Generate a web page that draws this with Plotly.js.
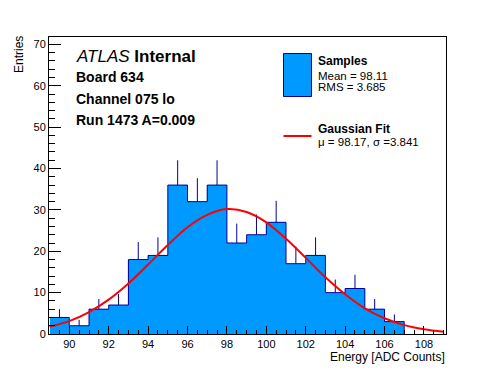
<!DOCTYPE html>
<html>
<head>
<meta charset="utf-8">
<script src="https://cdn.plot.ly/plotly-3.0.1.min.js"></script>
<style>html,body{margin:0;padding:0;background:#fff;}#chart{width:496px;height:372px;}</style>
</head>
<body>
<div id="chart"></div>
<script>
// ---- data ----
const binLowEdges = [89, 90, 91, 92, 93, 94, 95, 96, 97, 98, 99, 100, 101, 102, 103, 104, 105, 106];
const binWidth = 1;
const counts = [4, 2, 6, 7, 18, 19, 36, 32, 36, 22, 24, 27, 17, 19, 10, 11, 6, 3];
const fitX = [89, 90, 91, 92, 93, 94, 95, 96, 97, 98, 99, 100, 101, 102, 103, 104, 105, 106, 107, 108, 109];
const fitY = [1.75, 3.1, 5.3, 8.3, 12.2, 16.8, 21.5, 25.8, 28.8, 30.2, 29.5, 27.0, 23.0, 18.4, 13.7, 9.6, 6.2, 3.8, 2.15, 1.15, 0.57];
const xTitle = "Energy [ADC Counts]";
const yTitle = "Entries";
const statLines = ["Mean = 98.11", "RMS = 3.685"];
const fitLine = "\u03bc = 98.17, \u03c3 =3.841";
const infoLines = ["Board 634", "Channel 075 lo", "Run 1473 A=0.009"];

// ---- derived ----
const centers = binLowEdges.map(e => e + binWidth / 2);
const errs = counts.map(c => Math.sqrt(c));
const stepX = binLowEdges.concat([binLowEdges[binLowEdges.length - 1] + binWidth]);
const stepY = counts.concat([0]);

const FONT = '"Liberation Sans", Arial, Helvetica, sans-serif';
const L = 49, R = 446, T = 37, B = 334;
const W = 496, H = 372;
const px = x => (x - L) / (R - L);
const py = y => (B - y) / (B - T);

const fillBlue = '#0099ff';
const darkBlue = '#000099';

const traces = [
  { type: 'bar', x: centers, y: counts, width: binWidth, marker: { color: fillBlue, line: { width: 0 } }, hoverinfo: 'skip', showlegend: false },
  { type: 'scatter', mode: 'markers', x: centers, y: counts, marker: { size: 0.1, opacity: 0 },
    error_y: { type: 'data', symmetric: false, array: errs, arrayminus: counts.map(() => 0), color: darkBlue, thickness: 1, width: 0 }, showlegend: false, hoverinfo: 'skip' },
  { type: 'scatter', mode: 'lines', x: stepX, y: stepY, line: { shape: 'hv', color: darkBlue, width: 1 }, showlegend: false, hoverinfo: 'skip' },
  { type: 'scatter', mode: 'lines', x: fitX, y: fitY, line: { shape: 'spline', color: '#ff0000', width: 2 }, showlegend: false, hoverinfo: 'skip' }
];

const ann = [];
function addText(text, x, y, size, opts) {
  ann.push(Object.assign({ text: text, xref: 'paper', yref: 'paper', x: px(x), y: py(y), xanchor: 'left', yanchor: 'middle', showarrow: false,
    font: { family: FONT, size: size, color: '#000' } }, opts || {}));
}
addText('<i>ATLAS</i> <b>Internal</b>', 74, 56, 17);
addText('<b>' + infoLines[0] + '</b>', 74, 77, 14);
addText('<b>' + infoLines[1] + '</b>', 74, 98.5, 14);
addText('<b>' + infoLines[2] + '</b>', 74, 119.5, 14);
addText('<b>Samples</b>', 316, 61, 12);
addText(statLines[0], 316, 75.5, 11.5);
addText(statLines[1], 316, 87, 11.5);
addText('<b>Gaussian Fit</b>', 316, 129, 12);
addText(fitLine, 316, 141.5, 11.5);
addText(xTitle, R + 1, 357, 12, { xanchor: 'right' });
addText(yTitle, 19, 54, 12, { xanchor: 'center', textangle: -90 });

const shapes = [
  { type: 'rect', xref: 'paper', yref: 'paper', x0: px(283.5), x1: px(311.5), y0: py(96.5), y1: py(53.5), fillcolor: fillBlue, line: { color: darkBlue, width: 1 } },
  { type: 'line', xref: 'paper', yref: 'paper', x0: px(283.5), x1: px(311.5), y0: py(136), y1: py(136), line: { color: '#ff0000', width: 2 } }
];

const layout = {
  width: W, height: H,
  margin: { l: L, r: W - R, t: T, b: H - B, pad: 0 },
  paper_bgcolor: '#fff', plot_bgcolor: '#fff',
  font: { family: FONT, size: 11, color: '#000' },
  showlegend: false,
  bargap: 0,
  xaxis: {
    range: [88.97, 109.12], dtick: 2, tick0: 90, ticks: 'inside', ticklen: 8, tickwidth: 1, tickcolor: '#000',
    minor: { dtick: 0.5, tick0: 90, ticks: 'inside', ticklen: 4, tickwidth: 1, tickcolor: '#000', showgrid: false },
    showline: true, linecolor: '#000', linewidth: 1, mirror: true, showgrid: false, zeroline: false,
    tickfont: { family: FONT, size: 11, color: '#000' }
  },
  yaxis: {
    range: [0, 71.8], dtick: 10, tick0: 0, ticks: 'inside', ticklen: 12, tickwidth: 1, tickcolor: '#000',
    minor: { dtick: 2, tick0: 0, ticks: 'inside', ticklen: 6, tickwidth: 1, tickcolor: '#000', showgrid: false },
    showline: true, linecolor: '#000', linewidth: 1, mirror: true, showgrid: false, zeroline: false,
    tickfont: { family: FONT, size: 11, color: '#000' }
  },
  annotations: ann,
  shapes: shapes
};

Plotly.newPlot('chart', traces, layout, { staticPlot: true, displayModeBar: false });
</script>
</body>
</html>
